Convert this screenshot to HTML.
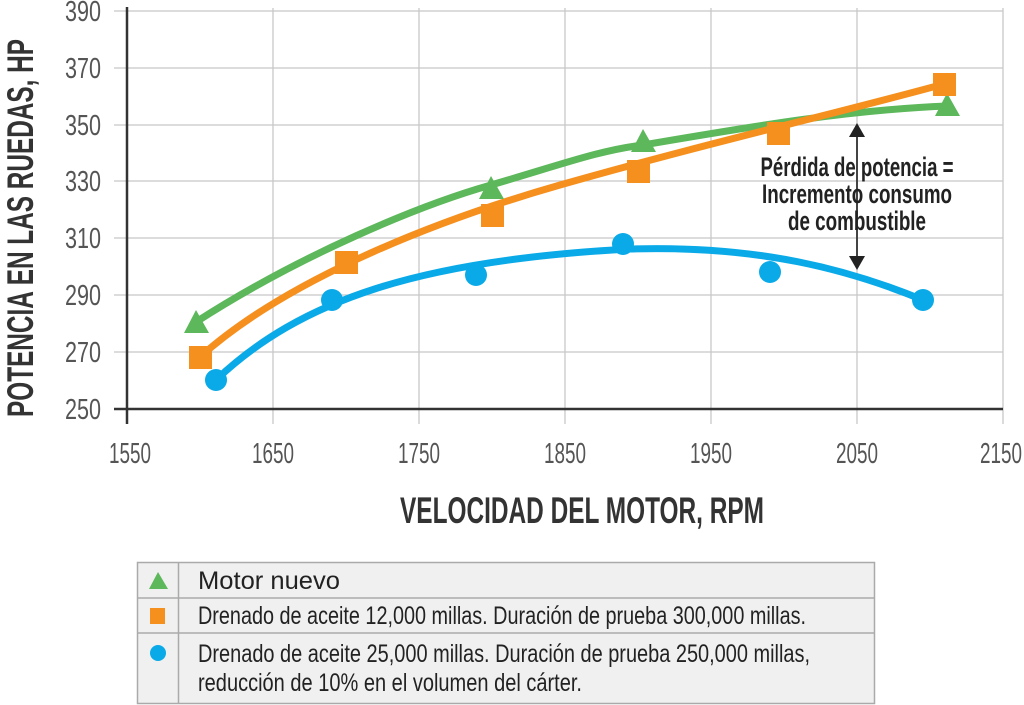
<!DOCTYPE html>
<html><head><meta charset="utf-8"><style>
html,body{margin:0;padding:0;background:#fff;}
svg{display:block;font-family:"Liberation Sans Narrow","Liberation Sans",sans-serif;}
</style></head><body>
<svg width="1024" height="705" viewBox="0 0 1024 705">
<g stroke="#c8c8c8" stroke-width="1.3">
<line x1="114" y1="11" x2="1003" y2="11"/><line x1="114" y1="68" x2="1003" y2="68"/>
<line x1="114" y1="125" x2="1003" y2="125"/><line x1="114" y1="181" x2="1003" y2="181"/>
<line x1="114" y1="238" x2="1003" y2="238"/><line x1="114" y1="295" x2="1003" y2="295"/>
<line x1="114" y1="352" x2="1003" y2="352"/>
<line x1="273" y1="8" x2="273" y2="424"/><line x1="419" y1="8" x2="419" y2="424"/>
<line x1="565" y1="8" x2="565" y2="424"/><line x1="711" y1="8" x2="711" y2="424"/>
<line x1="857" y1="8" x2="857" y2="424"/><line x1="1003" y1="8" x2="1003" y2="424"/>
</g>
<line x1="127" y1="7" x2="127" y2="424" stroke="#333" stroke-width="2.5"/>
<line x1="114" y1="409" x2="1003" y2="409" stroke="#333" stroke-width="2.5"/>
<g fill="#555" font-size="29" text-anchor="end">
<text x="101" y="21" textLength="36" lengthAdjust="spacingAndGlyphs">390</text>
<text x="101" y="78" textLength="36" lengthAdjust="spacingAndGlyphs">370</text>
<text x="101" y="135" textLength="36" lengthAdjust="spacingAndGlyphs">350</text>
<text x="101" y="191" textLength="36" lengthAdjust="spacingAndGlyphs">330</text>
<text x="101" y="248" textLength="36" lengthAdjust="spacingAndGlyphs">310</text>
<text x="101" y="305" textLength="36" lengthAdjust="spacingAndGlyphs">290</text>
<text x="101" y="362" textLength="36" lengthAdjust="spacingAndGlyphs">270</text>
<text x="101" y="419" textLength="36" lengthAdjust="spacingAndGlyphs">250</text>
</g>
<g fill="#555" font-size="29" text-anchor="middle">
<text x="130" y="463" textLength="42" lengthAdjust="spacingAndGlyphs">1550</text>
<text x="273" y="463" textLength="42" lengthAdjust="spacingAndGlyphs">1650</text>
<text x="419" y="463" textLength="42" lengthAdjust="spacingAndGlyphs">1750</text>
<text x="565" y="463" textLength="42" lengthAdjust="spacingAndGlyphs">1850</text>
<text x="711" y="463" textLength="42" lengthAdjust="spacingAndGlyphs">1950</text>
<text x="857" y="463" textLength="42" lengthAdjust="spacingAndGlyphs">2050</text>
<text x="1001" y="463" textLength="42" lengthAdjust="spacingAndGlyphs">2150</text>
</g>
<text x="582" y="523" fill="#333" font-weight="bold" font-size="37" text-anchor="middle" textLength="364" lengthAdjust="spacingAndGlyphs">VELOCIDAD DEL MOTOR, RPM</text>
<text transform="translate(33,228) rotate(-90)" fill="#333" font-weight="bold" font-size="37" text-anchor="middle" textLength="378" lengthAdjust="spacingAndGlyphs">POTENCIA EN LAS RUEDAS, HP</text>

<g fill="none" stroke-width="7" stroke-linecap="round">
<path d="M196,322 C300,255 420,205 491,185 C560,165 600,150 643,145 C760,125 850,110 947,106" stroke="#5cb85a"/>
<path d="M200,357 C280,285 420,225 560,185 C700,145 850,110 944,84" stroke="#f5901e"/>
<path d="M216,380 C300,300 420,260 630,249 C760,245 850,270 923,300" stroke="#0aaae8"/>
</g>
<g fill="#5cb85a">
<polygon points="196,310 184,333 209,333"/><polygon points="491,176 479,199 504,199"/>
<polygon points="643,129 631,152 656,152"/><polygon points="947,93 935,116 960,116"/>
</g>
<g fill="#f5901e">
<rect x="189" y="346" width="23" height="23"/><rect x="335" y="251" width="23" height="23"/>
<rect x="481" y="204" width="23" height="23"/><rect x="627" y="160" width="23" height="23"/>
<rect x="767" y="122" width="23" height="23"/><rect x="933" y="73" width="23" height="23"/>
</g>
<g fill="#0aaae8">
<circle cx="216" cy="380" r="11"/><circle cx="332" cy="300" r="11"/><circle cx="476" cy="275" r="11"/>
<circle cx="623" cy="244" r="11"/><circle cx="770" cy="272" r="11"/><circle cx="923" cy="300" r="11"/>
</g>
<line x1="857" y1="132" x2="857" y2="260" stroke="#444" stroke-width="2"/>
<polygon points="857,123 849,137 865,137" fill="#222"/>
<polygon points="857,270 849,256 865,256" fill="#222"/>
<g fill="#222" font-weight="bold" font-size="27" text-anchor="middle">
<text x="857" y="176" textLength="193" lengthAdjust="spacingAndGlyphs">Pérdida de potencia =</text>
<text x="857" y="203" textLength="190" lengthAdjust="spacingAndGlyphs">Incremento consumo</text>
<text x="857" y="230" textLength="138" lengthAdjust="spacingAndGlyphs">de combustible</text>
</g>

<rect x="137.5" y="562.5" width="737" height="141" fill="#f0f0f0" stroke="#aaa" stroke-width="1.5"/>
<line x1="137" y1="598" x2="875" y2="598" stroke="#aaa" stroke-width="1.5"/>
<line x1="137" y1="633" x2="875" y2="633" stroke="#aaa" stroke-width="1.5"/>
<line x1="178.5" y1="562" x2="178.5" y2="703" stroke="#aaa" stroke-width="1.5"/>
<polygon points="158,572 149,589 168,589" fill="#5cb85a"/>
<rect x="150" y="608" width="15" height="16" fill="#f5901e"/>
<circle cx="158" cy="653" r="8" fill="#0aaae8"/>
<g fill="#222" font-size="25">
<text x="198" y="589" textLength="142" lengthAdjust="spacingAndGlyphs">Motor nuevo</text>
<text x="198" y="624" textLength="608" lengthAdjust="spacingAndGlyphs">Drenado de aceite 12,000 millas. Duración de prueba 300,000 millas.</text>
<text x="198" y="662" textLength="612" lengthAdjust="spacingAndGlyphs">Drenado de aceite 25,000 millas. Duración de prueba 250,000 millas,</text>
<text x="198" y="691" textLength="384" lengthAdjust="spacingAndGlyphs">reducción de 10% en el volumen del cárter.</text>
</g>
</svg>
</body></html>
